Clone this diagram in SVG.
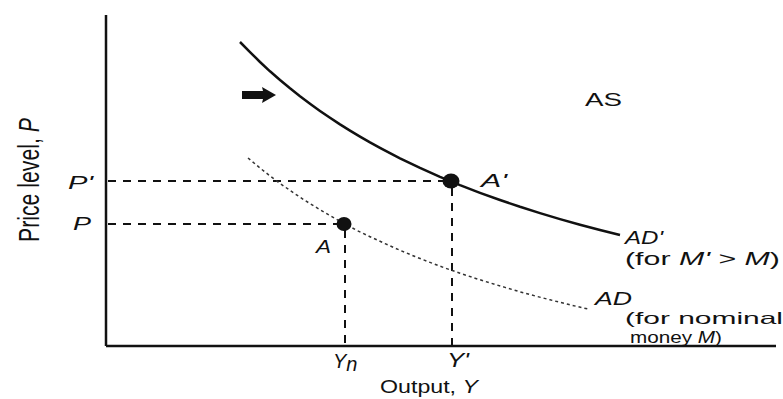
<svg xmlns="http://www.w3.org/2000/svg" width="783" height="399" viewBox="0 0 783 399">
  <style>
    .t { font-family: "Liberation Sans", Arial, sans-serif; font-size: 18px; fill: #111; }
    .i { font-style: italic; }
    .axis { stroke: #111; stroke-width: 2.5; fill: none; }
    .guide { stroke: #111; stroke-width: 2; fill: none; stroke-dasharray: 8 7; }
    .curve { stroke: #111; stroke-width: 2.5; fill: none; stroke-linejoin: round; }
    .faint { stroke: #333; stroke-width: 1.5; fill: none; stroke-dasharray: 3 3; }
    .dot { fill: #111; }
    .sm { font-size: 16.5px; }
  </style>
  <rect width="783" height="399" fill="#fff"/>

  <g id="axes">
    <line class="axis" x1="106" y1="15" x2="106" y2="346"/>
    <line class="axis" x1="106" y1="346" x2="776" y2="346"/>
    <text class="t" transform="translate(39,242) scale(1.65,1) rotate(-90)" textLength="124" lengthAdjust="spacingAndGlyphs">Price level, <tspan class="i">P</tspan></text>
    <text class="t" x="380" y="393" textLength="98" lengthAdjust="spacingAndGlyphs">Output, <tspan class="i">Y</tspan></text>
  </g>

  <g id="connectors">
    <line class="guide" x1="108" y1="181" x2="446" y2="181"/>
    <line class="guide" x1="108" y1="224" x2="340" y2="224"/>
    <line class="guide" x1="345" y1="230" x2="345" y2="345"/>
    <line class="guide" x1="452" y1="188" x2="452" y2="345"/>
  </g>

  <g id="AD-prime">
    <polyline class="curve" points="240,42 250,52.2 260,62 270,71.3 280,80 290,88.3 300,96.2 310,103.7 320,110.9 330,117.8 340,124.4 350,130.6 360,136.6 370,142.4 380,147.9 390,153.2 400,158.3 420,167.9 440,176.8 460,185.1 480,192.8 500,200 520,206.8 540,213.1 560,219.1 580,224.7 600,230 620,235"/>
    <text class="t i" x="625" y="244" textLength="38" lengthAdjust="spacingAndGlyphs">AD'</text>
    <text class="t" x="625" y="265" textLength="155" lengthAdjust="spacingAndGlyphs">(for <tspan class="i">M'</tspan> &gt; <tspan class="i">M</tspan>)</text>
  </g>

  <g id="AD">
    <polyline class="faint" points="248,158 259,167.2 270,175.9 280,183.4 290,190.4 300,197.2 310,203.6 320,209.7 330,215.6 345,224 357,230.5 370,236.7 385,243.6 400,250.3 415,256.5 430,262.4 445,268 460,273.2 475,278.2 490,282.9 505,287.4 520,291.8 535,295.9 550,299.8 569,304.6 588,309"/>
    <text class="t i" x="595" y="305" textLength="37" lengthAdjust="spacingAndGlyphs">AD</text>
    <text class="t sm" x="625" y="324" textLength="158" lengthAdjust="spacingAndGlyphs">(for nominal</text>
    <text class="t sm" x="630" y="343" textLength="92" lengthAdjust="spacingAndGlyphs">money <tspan class="i">M</tspan>)</text>
  </g>

  <g id="AS">
    <text class="t" x="585" y="106" textLength="37" lengthAdjust="spacingAndGlyphs">AS</text>
  </g>

  <g id="shift-arrow">
    <path class="dot" d="M242,91 L263,91 L262,87 L276,95 L262,103 L263,99 L242,99 Z"/>
  </g>

  <g id="point-A-prime">
    <ellipse class="dot" cx="451" cy="181" rx="8.5" ry="7.5"/>
    <text class="t i" x="481" y="187" textLength="26" lengthAdjust="spacingAndGlyphs">A'</text>
  </g>

  <g id="point-A">
    <ellipse class="dot" cx="344" cy="224" rx="7.5" ry="7"/>
    <text class="t i" x="316" y="253" textLength="15" lengthAdjust="spacingAndGlyphs">A</text>
  </g>

  <g id="labels-P">
    <text class="t i" x="68" y="189" textLength="25" lengthAdjust="spacingAndGlyphs">P'</text>
    <text class="t i" x="73" y="230" textLength="18" lengthAdjust="spacingAndGlyphs">P</text>
  </g>

  <g id="labels-Y">
    <text class="t i" x="333" y="368" style="font-size:20px">Y<tspan dy="3">n</tspan></text>
    <text class="t i" x="447" y="367" style="font-size:20px" textLength="22" lengthAdjust="spacingAndGlyphs">Y'</text>
  </g>
</svg>
